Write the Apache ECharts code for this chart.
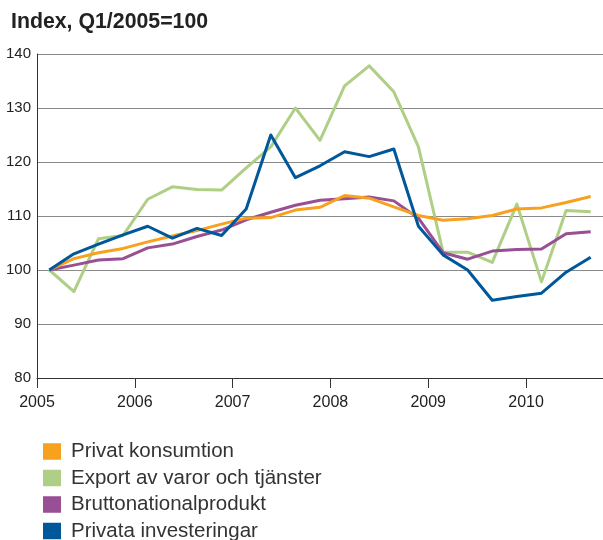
<!DOCTYPE html>
<html>
<head>
<meta charset="utf-8">
<script src="https://cdn.jsdelivr.net/npm/echarts@6/dist/echarts.min.js"></script>
<style>
html,body{margin:0;padding:0;background:#fff;}
#c{width:603px;height:540px;}
</style>
</head>
<body>
<div id="c"></div>
<script>
var quarters = ['2005 Q1','2005 Q2','2005 Q3','2005 Q4','2006 Q1','2006 Q2','2006 Q3','2006 Q4',
  '2007 Q1','2007 Q2','2007 Q3','2007 Q4','2008 Q1','2008 Q2','2008 Q3','2008 Q4',
  '2009 Q1','2009 Q2','2009 Q3','2009 Q4','2010 Q1','2010 Q2','2010 Q3'];
var yearTicks = [2005, 2006, 2007, 2008, 2009, 2010];
var yTicks = [80, 90, 100, 110, 120, 130, 140];

var privatKonsumtion = [100, 102.1, 103.2, 104.0, 105.2, 106.3, 107.3, 108.5, 109.6, 109.7, 111.1, 111.6, 113.8, 113.3, 111.7, 110.1, 109.2, 109.5, 110.1, 111.3, 111.5, 112.5, 113.6];
var exportVaror = [100, 96.0, 105.8, 106.4, 113.1, 115.4, 114.9, 114.8, 118.9, 122.8, 130.0, 124.0, 134.1, 137.8, 133.0, 122.8, 103.3, 103.3, 101.4, 112.2, 97.8, 111.0, 110.8];
var bnp = [100, 100.9, 101.85, 102.1, 104.1, 104.8, 106.2, 107.4, 109.3, 110.7, 112.0, 112.9, 113.2, 113.5, 112.8, 109.6, 103.2, 102.0, 103.5, 103.8, 103.9, 106.7, 107.1];
var privataInvesteringar = [100, 103.0, 104.8, 106.5, 108.1, 105.9, 107.7, 106.4, 111.3, 125.0, 117.1, 119.3, 121.9, 121.0, 122.4, 108.1, 102.8, 100.0, 94.4, 95.1, 95.7, 99.6, 102.35];

var names = ['Privat konsumtion', 'Export av varor och tjänster', 'Bruttonationalprodukt', 'Privata investeringar'];
var colors = ['#F7A11F', '#AECF85', '#984F93', '#00579A'];
var FONT = '"Liberation Sans", Arial, sans-serif';

var chart = echarts.init(document.getElementById('c'), null, {renderer: 'canvas'});
function mk(i, data, z) {
  return {
    name: names[i], type: 'line', data: data, xAxisIndex: 0, yAxisIndex: 0,
    symbol: 'none', smooth: false, z: z,
    lineStyle: {color: colors[i], width: 3, join: 'round'},
    itemStyle: {color: colors[i]}
  };
}
chart.setOption({
  animation: false,
  textStyle: {fontFamily: FONT},
  title: {
    text: 'Index, Q1/2005=100', left: 6, top: 7,
    textStyle: {fontFamily: FONT, fontSize: 21.3, fontWeight: 'bold', color: '#222'}
  },
  grid: {left: 37, right: 0, top: 54, bottom: 162, containLabel: false},
  legend: {
    orient: 'vertical', left: 38, top: 436, height: 140,
    icon: 'rect', itemWidth: 18, itemHeight: 16.5, itemGap: 5.5,
    selectedMode: false,
    data: names,
    textStyle: {fontFamily: FONT, fontSize: 20.5, lineHeight: 20, color: '#333', padding: [0, 0, 0, 5]}
  },
  xAxis: [
    {type: 'category', data: quarters, boundaryGap: true, show: false},
    {type: 'value', position: 'bottom', min: 2005, max: 2010.787,
     axisLine: {show: true, onZero: false, lineStyle: {color: '#333', width: 1}},
     axisTick: {show: true, length: 10, customValues: yearTicks, lineStyle: {color: '#333', width: 1}},
     axisLabel: {customValues: yearTicks, formatter: function (v) { return String(v); },
       fontFamily: FONT, fontSize: 16, color: '#222', margin: 17},
     splitLine: {show: false}}
  ],
  yAxis: {
    type: 'value', min: 80, max: 140, interval: 10,
    axisLine: {show: true, lineStyle: {color: '#333', width: 1}},
    axisTick: {show: false},
    axisLabel: {fontFamily: FONT, fontSize: 15, color: '#222', margin: 6,
      formatter: function (v) { return yTicks.indexOf(v) >= 0 ? String(v) : ''; }},
    splitLine: {show: true, lineStyle: {color: '#8a8a8a', width: 1.2}}
  },
  series: [
    mk(0, privatKonsumtion, 3),
    mk(1, exportVaror, 2),
    mk(2, bnp, 2),
    mk(3, privataInvesteringar, 4)
  ]
});
</script>
</body>
</html>
